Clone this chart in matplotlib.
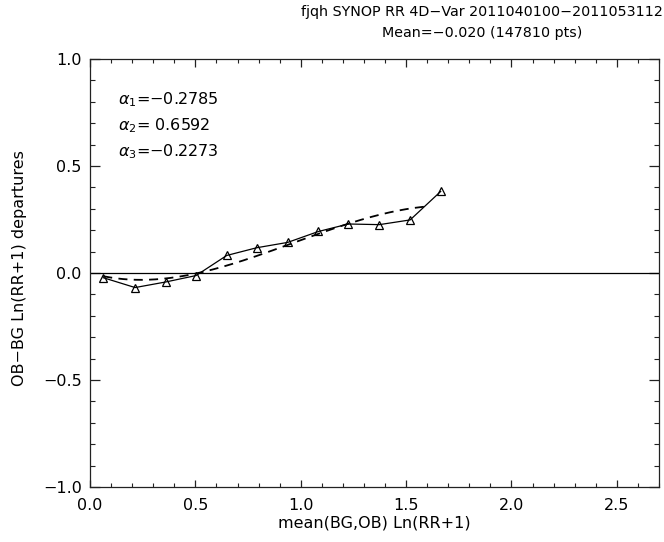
import matplotlib
matplotlib.use('Agg')
import matplotlib.pyplot as plt
import numpy as np

# binned mean departures
bin_x = [0.063, 0.214, 0.359, 0.503, 0.649, 0.791, 0.938, 1.084, 1.226, 1.373, 1.519, 1.664]
bin_y = [-0.022, -0.068, -0.042, -0.012, 0.082, 0.118, 0.143, 0.194, 0.229, 0.226, 0.248, 0.381]

# cubic fit coefficients (alpha1*x + alpha2*x^2 + alpha3*x^3)
alphas = [-0.2785, 0.6592, -0.2273]
fit_range = [0.063, 1.60]

title1 = 'fjqh SYNOP RR 4D\u2212Var 2011040100\u22122011053112'
title2 = 'Mean=\u22120.020 (147810 pts)'
xlabel = 'mean(BG,OB) Ln(RR+1)'
ylabel = 'OB\u2212BG Ln(RR+1) departures'
alpha_labels = [r'$\alpha_1$=' + '\u22120.2785',
                r'$\alpha_2$=' + ' 0.6592',
                r'$\alpha_3$=' + '\u22120.2273']


def fmt(v, pos):
    return ('%.1f' % v).replace('-', '\u2212')


def main():
    plt.rcParams['font.family'] = ['DejaVu Sans']
    fig = plt.figure(figsize=(6.64, 5.42), dpi=100)
    ax = fig.add_axes([90 / 664, 1 - 487 / 542, (659 - 90) / 664, (487 - 59) / 542])

    xf = np.linspace(fit_range[0], fit_range[1], 200)
    yf = alphas[0] * xf + alphas[1] * xf ** 2 + alphas[2] * xf ** 3
    ax.plot(xf, yf, color='black', lw=1.3, ls=(0, (5, 3.5)))

    ax.plot(bin_x, bin_y, color='black', lw=0.9, marker='^', ms=6,
            mfc='none', mec='black', mew=0.9)
    ax.axhline(0.0, color='black', lw=0.9)

    ax.set_xlim(0, 2.7)
    ax.set_ylim(-1.0, 1.0)
    ax.set_xticks([0.0, 0.5, 1.0, 1.5, 2.0, 2.5])
    ax.set_xticks(np.arange(0, 2.71, 0.1), minor=True)
    ax.set_yticks([-1.0, -0.5, 0.0, 0.5, 1.0])
    ax.set_yticks(np.arange(-1.0, 1.01, 0.1), minor=True)
    ax.xaxis.set_major_formatter(matplotlib.ticker.FuncFormatter(fmt))
    ax.yaxis.set_major_formatter(matplotlib.ticker.FuncFormatter(fmt))
    ax.tick_params(which='both', direction='in', top=True, right=True,
                   labelsize=11.5, color='#222222')
    ax.tick_params(axis='x', which='major', length=5.4, width=0.9, pad=8)
    ax.tick_params(axis='x', which='minor', length=2.7, width=0.8)
    ax.tick_params(axis='y', which='major', length=7.2, width=0.9, pad=6)
    ax.tick_params(axis='y', which='minor', length=3.8, width=0.8)
    for s in ax.spines.values():
        s.set_linewidth(0.9)
        s.set_color('#222222')

    ax.set_xlabel(xlabel, fontsize=11.5, labelpad=2)
    ax.set_ylabel(ylabel, fontsize=11.5)
    ax.yaxis.set_label_coords(-0.1107, 0.512)

    for lab, yy in zip(alpha_labels, [0.904, 0.8435, 0.783]):
        ax.text(0.049, yy, lab, transform=ax.transAxes, fontsize=11.5, va='center')

    fig.text(482 / 664, 1 - 12 / 542, title1, ha='center', va='center', fontsize=10.3)
    fig.text(482 / 664, 1 - 33 / 542, title2, ha='center', va='center', fontsize=10.3)

    fig.savefig('out.png', dpi=100)


if __name__ == '__main__':
    main()
